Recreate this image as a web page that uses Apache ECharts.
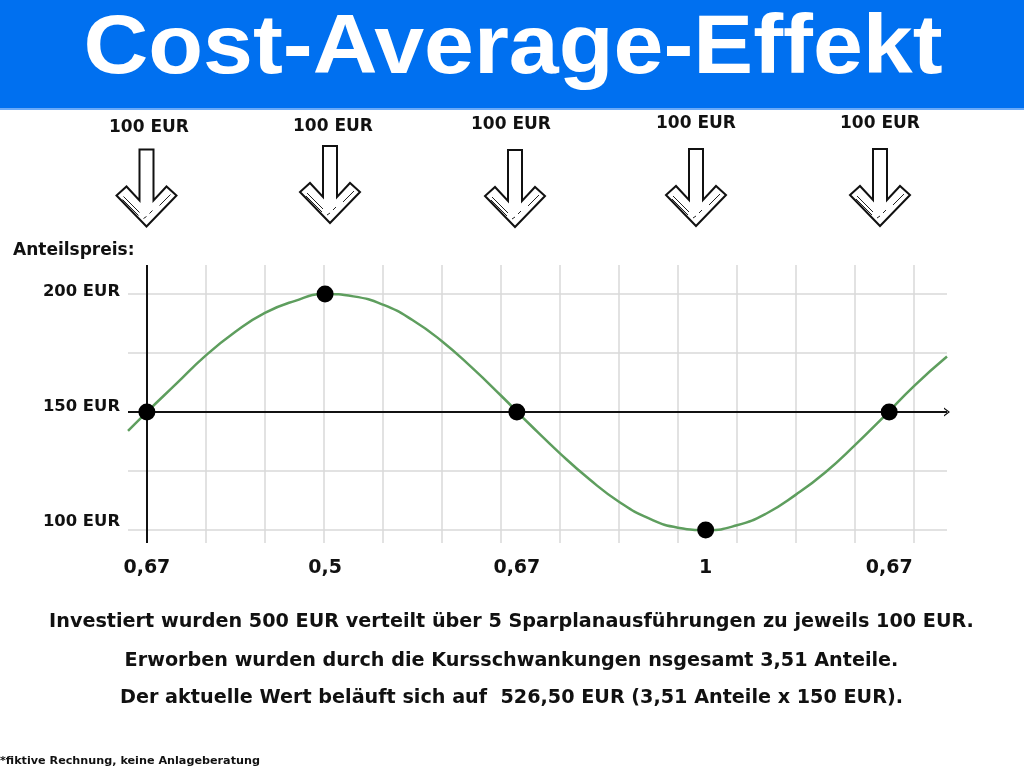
<!DOCTYPE html>
<html>
<head>
<meta charset="utf-8">
<script src="https://cdn.jsdelivr.net/npm/echarts@6/dist/echarts.min.js"></script>
<style>
html,body{margin:0;padding:0;background:#fff;}
#c{width:1024px;height:768px;}
</style>
</head>
<body>
<div id="c"></div>
<script>
// ---- data ----
const priceX = [-0.32, 0, 0.5, 1, 1.5, 2, 2.5, 3, 3.5, 4, 4.5, 5, 5.5, 6, 6.5, 7, 7.5, 8, 8.5, 9, 9.5, 10, 10.5, 11, 11.5, 12, 12.5, 13, 13.56];
const priceY = [142, 150, 162, 174, 184, 192, 197, 200, 199, 195.5, 189, 180, 169, 157, 144.5, 132.5, 121.5, 112, 105, 101, 100, 102, 107, 115, 124.5, 136, 148.3, 161, 173.5];
const buyX = [0, 3.02, 6.27, 9.47, 12.58];
const buyY = [150, 200, 150, 100, 150];
const shareLabels = ['0,67', '0,5', '0,67', '1', '0,67'];
const gridXValues = [1, 2, 3, 4, 5, 6, 7, 8, 9, 10, 11, 12, 13];
const gridYValues = [100, 125, 175, 200];
const yTickValues = [200, 150, 100];
const yTickLabels = ['200 EUR', '150 EUR', '100 EUR'];
const investLabel = '100 EUR';
const infoLines = [
  'Investiert wurden 500 EUR verteilt über 5 Sparplanausführungen zu jeweils 100 EUR.',
  'Erworben wurden durch die Kursschwankungen nsgesamt 3,51 Anteile.',
  'Der aktuelle Wert beläuft sich auf  526,50 EUR (3,51 Anteile x 150 EUR).'
];

const chart = echarts.init(document.getElementById('c'), null, {renderer: 'canvas'});
const FONT = '"DejaVu Sans", sans-serif';

const curve = priceX.map((x, i) => [x, priceY[i]]);
const buys = buyX.map((x, i) => [x, buyY[i]]);

const gridLineStyle = {color: '#d9d9d9', width: 1.5, type: 'solid'};
const gridMarks = gridXValues.map(v => ({xAxis: v}))
  .concat(gridYValues.map(v => ({yAxis: v})));

chart.setOption({
  animation: false,
  backgroundColor: '#ffffff',
  grid: {left: 128, right: 77, top: 265, bottom: 225, containLabel: false},
  xAxis: {
    type: 'value', min: -0.32, max: 13.56,
    axisLine: {show: false}, axisTick: {show: false},
    axisLabel: {show: false}, splitLine: {show: false}
  },
  yAxis: {
    type: 'value', min: 94.5, max: 212.3,
    axisLine: {show: false}, axisTick: {show: false},
    axisLabel: {show: false}, splitLine: {show: false}
  },
  series: [
    {
      type: 'line', data: [], z: 1, silent: true,
      markLine: {
        z: 1, silent: true, symbol: 'none', animation: false,
        label: {show: false},
        lineStyle: gridLineStyle,
        data: gridMarks
      }
    },
    {
      type: 'line', data: [], z: 2, silent: true,
      markLine: {
        z: 2, silent: true, animation: false,
        label: {show: false},
        symbol: ['none', 'none'],
        lineStyle: {color: '#111', width: 2, type: 'solid'},
        data: [{xAxis: 0}]
      }
    },
    {
      type: 'line', data: [], z: 2, silent: true,
      markLine: {
        z: 2, silent: true, animation: false,
        label: {show: false},
        symbol: ['none', 'path://M0,10 L5,0 L10,10 L8.4,10 L5,3.2 L1.6,10 Z'],
        symbolSize: [9, 6],
        lineStyle: {color: '#111', width: 2, type: 'solid'},
        data: [{yAxis: 150}]
      }
    },
    {
      type: 'line', data: curve, smooth: true, showSymbol: false, z: 6,
      lineStyle: {color: '#5e9e5e', width: 2.5},
      silent: true
    },
    {
      type: 'scatter', data: buys, symbol: 'circle', symbolSize: 17, z: 8,
      itemStyle: {color: '#000', opacity: 1}, silent: true
    }
  ]
});

// ---- decorations & labels ----
function txt(text, x, y, size, align, color, family, weight) {
  return {
    type: 'text', silent: true, z: 10,
    style: {
      text: text, x: x, y: y,
      font: (weight || 'bold') + ' ' + size + 'px ' + (family || FONT),
      fill: color || '#111',
      align: align || 'center', textAlign: align || 'center',
      verticalAlign: 'middle', textVerticalAlign: 'middle'
    }
  };
}

function arrow(cx, top) {
  const p = (dx, dy) => [cx + dx, top + dy];
  const line = (a, b, w) => ({type: 'polyline', silent: true, z: 11, shape: {points: [a, b]}, style: {stroke: '#222', lineWidth: w || 1}});
  return [
    {
      type: 'polygon', silent: true, z: 10,
      shape: {points: [p(-7, 0), p(7, 0), p(7, 51), p(20, 37), p(30, 46), p(0, 77), p(-30, 46), p(-20, 37), p(-7, 51)]},
      style: {fill: '#fff', stroke: '#111', lineWidth: 2, lineJoin: 'miter'}
    },
    line(p(-23, 47), p(-7, 63)),
    line(p(-24, 50), p(-8, 66)),
    line(p(-3, 69), p(0, 67)),
    line(p(3, 64), p(6, 61)),
    line(p(13, 56), p(24, 45))
  ];
}

const g = [];
// title banner
g.push({type: 'rect', silent: true, z: 5, shape: {x: 0, y: 0, width: 1024, height: 108}, style: {fill: '#0070f0'}});
g.push({type: 'rect', silent: true, z: 5, shape: {x: 0, y: 108, width: 1024, height: 2}, style: {fill: '#6aaaf8'}});
const title = txt('Cost-Average-Effekt', 0, 0, 84, 'center', '#fff', '"Liberation Sans", Arial, sans-serif');
title.x = 513; title.y = 50; title.scaleX = 1.068;
g.push(title);

// investment arrows and labels
const arrowCx = [146.5, 330, 515, 696, 880];
const arrowTop = [149.5, 146, 150, 149, 149];
const labelCx = [149, 333, 511, 696, 880];
const labelCy = [128, 127, 125, 124, 124];
arrowCx.forEach((cx, i) => {
  arrow(cx, arrowTop[i]).forEach(e => g.push(e));
  g.push(txt(investLabel, labelCx[i], labelCy[i], 17, 'center'));
});

// y axis title & labels
g.push(txt('Anteilspreis:', 13, 251, 17, 'left'));
const yLabelDy = [-2, -5, -8];
yTickValues.forEach((v, i) => {
  const px = chart.convertToPixel({gridIndex: 0}, [0, v]);
  g.push(txt(yTickLabels[i], 120, px[1] + yLabelDy[i], 16.4, 'right'));
});

// x labels (shares bought)
buyX.forEach((x, i) => {
  const px = chart.convertToPixel({gridIndex: 0}, [x, 150]);
  g.push(txt(shareLabels[i], px[0], 568, 19, 'center'));
});

// info text
const infoY = [622, 661, 698];
infoLines.forEach((t, i) => g.push(txt(t, 511.5, infoY[i], 19.2, 'center')));
g.push(txt('*fiktive Rechnung, keine Anlageberatung', 0, 761, 11.2, 'left'));

chart.setOption({graphic: {elements: g}});
</script>
</body>
</html>
